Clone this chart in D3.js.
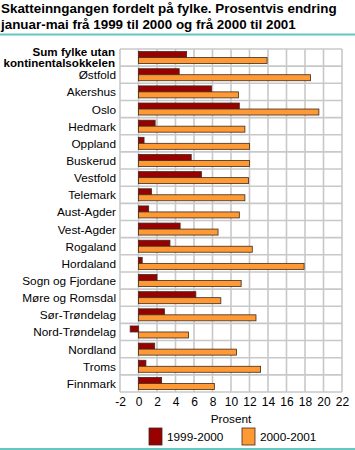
<!DOCTYPE html>
<html><head><meta charset="utf-8">
<script src="https://cdn.jsdelivr.net/npm/d3@7"></script>
<style>
html,body{margin:0;padding:0;background:#fff;}
svg{display:block;font-family:"Liberation Sans",Arial,sans-serif;}
</style></head>
<body><svg id="c" width="355" height="450"></svg>
<script>
const categories = ["Sum fylke utan kontinentalsokkelen","Østfold","Akershus","Oslo","Hedmark","Oppland","Buskerud","Vestfold","Telemark","Aust-Agder","Vest-Agder","Rogaland","Hordaland","Sogn og Fjordane","Møre og Romsdal","Sør-Trøndelag","Nord-Trøndelag","Nordland","Troms","Finnmark"];
const v19992000 = [5.2,4.4,7.9,10.9,1.8,0.6,5.7,6.8,1.4,1.1,4.5,3.4,0.4,2.0,6.2,2.8,-0.9,1.75,0.8,2.5];
const v20002001 = [13.9,18.6,10.8,19.5,11.5,12.0,12.0,11.9,11.5,10.9,8.6,12.3,17.9,11.1,8.9,12.7,5.4,10.6,13.2,8.2];
const seriesNames = ["1999-2000","2000-2001"];
const xTicks = [-2,0,2,4,6,8,10,12,14,16,18,20,22];
const titleLines = ["Skatteinngangen fordelt på fylke. Prosentvis endring","januar-mai frå 1999 til 2000 og frå 2000 til 2001"];
const xLabel = "Prosent";

const colors = ["#990000","#ff9933"];
const svg = d3.select("#c");
const L=120,R=342,T=49,B=392;
const x = d3.scaleLinear().domain([-2,22]).range([L,R]);
const y = d3.scaleBand().domain(categories).range([T,B]);
const teal="#66c6c0", grid="#c8c8c8";

// title
svg.selectAll("text.title").data(titleLines).join("text")
  .attr("x",1).attr("y",(d,i)=>13+i*15.5)
  .attr("font-size",13.4).attr("font-weight","bold").attr("fill","#000")
  .text(d=>d);
svg.append("line").attr("x1",0).attr("x2",355).attr("y1",34.5).attr("y2",34.5).attr("stroke",teal).attr("stroke-width",2);
svg.append("line").attr("x1",0).attr("x2",355).attr("y1",449).attr("y2",449).attr("stroke",teal).attr("stroke-width",2);

// grid
const g = svg.append("g");
g.selectAll("line.v").data(xTicks).join("line")
  .attr("x1",d=>x(d)).attr("x2",d=>x(d)).attr("y1",T).attr("y2",B)
  .attr("stroke",grid).attr("stroke-width",1.6);
const bounds = categories.map(c=>y(c)).concat([B]);
g.selectAll("line.h").data(bounds).join("line")
  .attr("x1",L).attr("x2",R).attr("y1",d=>d).attr("y2",d=>d)
  .attr("stroke",grid).attr("stroke-width",1.6);

// bars
const bh = 6;
categories.forEach((c,i)=>{
  const yc = y(c)+y.bandwidth()/2;
  [v19992000[i],v20002001[i]].forEach((v,k)=>{
    svg.append("rect")
      .attr("x",x(Math.min(0,v))).attr("width",Math.abs(x(v)-x(0)))
      .attr("y",k===0?yc-bh:yc).attr("height",bh)
      .attr("fill",colors[k]).attr("stroke","#3e2a1e").attr("stroke-width",0.8);
  });
});

// y labels
categories.forEach((c,i)=>{
  const yc = y(c)+y.bandwidth()/2;
  if(i===0){
    const t = svg.append("text").attr("text-anchor","end").attr("font-size",11.6).attr("font-weight","bold");
    t.append("tspan").attr("x",115).attr("y",yc-2).text("Sum fylke utan");
    t.append("tspan").attr("x",115).attr("y",yc+9.5).text("kontinentalsokkelen");
  } else {
    svg.append("text").attr("x",116).attr("y",yc+4.5).attr("text-anchor","end")
      .attr("font-size",11.8).text(c);
  }
});

// x axis labels
const ax = svg.append("g").attr("transform",`translate(0,${B})`)
  .call(d3.axisBottom(x).tickValues(xTicks).tickSize(0).tickPadding(5).tickFormat(d=>d<0?"-"+Math.abs(d):d));
ax.select(".domain").remove();
ax.selectAll("text").attr("font-size",12).attr("font-family","Liberation Sans, Arial, sans-serif").attr("fill","#000");
svg.append("text").attr("x",(L+R)/2).attr("y",423).attr("text-anchor","middle").attr("font-size",11.8).text(xLabel);

// legend
const lx=[149,242];
seriesNames.forEach((s,k)=>{
  svg.append("rect").attr("x",lx[k]).attr("y",428).attr("width",13).attr("height",17)
    .attr("fill",colors[k]).attr("stroke","#3e2a1e").attr("stroke-width",0.8);
  svg.append("text").attr("x",lx[k]+18).attr("y",441).attr("font-size",11.8).text(s);
});
</script></body></html>
